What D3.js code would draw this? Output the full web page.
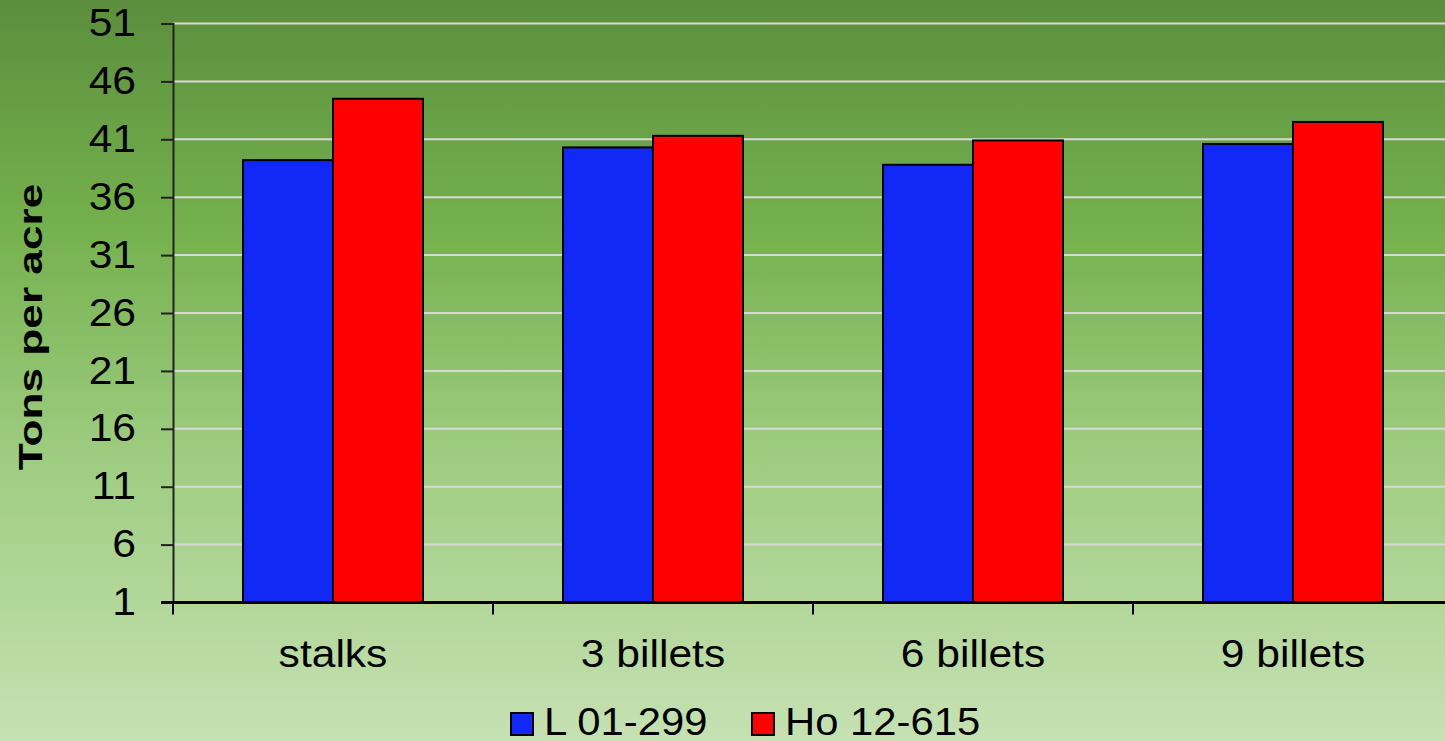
<!DOCTYPE html>
<html>
<head>
<meta charset="utf-8">
<script src="https://cdn.jsdelivr.net/npm/d3@7"></script>
<style>
  html, body { margin: 0; padding: 0; overflow: hidden; }
  svg { display: block; font-family: "Liberation Sans", Arial, sans-serif; }
</style>
</head>
<body>
<svg id="chart" width="1445" height="741"></svg>
<script>
var categories = ["stalks", "3 billets", "6 billets", "9 billets"];
var seriesNames = ["L 01-299", "Ho 12-615"];
var l01299 = [39.2, 40.3, 38.8, 40.6];
var ho12615 = [44.5, 41.3, 40.9, 42.5];
var yTicks = [1, 6, 11, 16, 21, 26, 31, 36, 41, 46, 51];
var colors = ["#1228f5", "#ff0000"];

var width = 1445, height = 741;
var margin = {top: 23.5, right: -8, bottom: 138.5, left: 173};
var w = width - margin.left - margin.right,
    h = height - margin.top - margin.bottom;

var svg = d3.select("#chart");

// the original text is a bit wider than Liberation Sans, stretch it
function stretch(sel, k){
  sel.each(function(){
    var l = this.getComputedTextLength();
    d3.select(this).attr("textLength", l * k).attr("lengthAdjust", "spacingAndGlyphs");
  });
}

// background gradient
var defs = svg.append("defs");
var grad = defs.append("linearGradient")
  .attr("id", "bg").attr("x1", 0).attr("y1", 0).attr("x2", 0).attr("y2", 1);
grad.append("stop").attr("offset", "0%").attr("stop-color", "#5b8e3d");
grad.append("stop").attr("offset", "30%").attr("stop-color", "#74b04d");
grad.append("stop").attr("offset", "60%").attr("stop-color", "#9ccb7e");
grad.append("stop").attr("offset", "100%").attr("stop-color", "#c6e1b3");
svg.append("rect").attr("width", width).attr("height", height).attr("fill", "url(#bg)");

var x = d3.scaleBand().domain(categories).range([0, w]).paddingInner(0).paddingOuter(0);
var xs = d3.scaleBand().domain(seriesNames).range([70, x.bandwidth() - 70]);
var y = d3.scaleLinear().domain([1, 51]).range([h, 0]);

var g = svg.append("g").attr("transform", "translate(" + margin.left + "," + margin.top + ")");

// gridlines
g.append("g")
  .selectAll("line")
  .data(yTicks.slice(1))
  .enter().append("line")
  .attr("x1", 0).attr("x2", w)
  .attr("y1", function(d){ return y(d); })
  .attr("y2", function(d){ return y(d); })
  .attr("stroke", "#d9d9d9")
  .attr("stroke-width", 2);

// bars
var data = [];
categories.forEach(function(c, i){
  data.push({cat: c, s: seriesNames[0], v: l01299[i], col: colors[0]});
  data.push({cat: c, s: seriesNames[1], v: ho12615[i], col: colors[1]});
});

g.selectAll(".bar")
  .data(data)
  .enter().append("rect")
  .attr("class", "bar")
  .attr("x", function(d){ return x(d.cat) + xs(d.s); })
  .attr("y", function(d){ return y(d.v); })
  .attr("width", xs.bandwidth())
  .attr("height", function(d){ return h - y(d.v); })
  .attr("fill", function(d){ return d.col; })
  .attr("stroke", "#000")
  .attr("stroke-width", 2);

// y axis
var yAxis = g.append("g")
  .call(d3.axisLeft(y).tickValues(yTicks).tickSize(12).tickPadding(25));
yAxis.select(".domain").attr("stroke", "#222").attr("stroke-width", 2);
yAxis.selectAll(".tick line").attr("stroke", "#222").attr("stroke-width", 2);
yAxis.selectAll(".tick text")
  .attr("font-size", 38).attr("fill", "#000")
  .attr("font-family", "Liberation Sans, Arial, sans-serif")
  .call(stretch, 1.12);

// x axis
var xAxis = g.append("g")
  .attr("transform", "translate(0," + h + ")")
  .call(d3.axisBottom(x).tickSize(0).tickPadding(38));
xAxis.select(".domain").attr("stroke", "#000").attr("stroke-width", 3).attr("d", "M-12,0H" + w);
xAxis.selectAll(".tick text")
  .attr("font-size", 38).attr("fill", "#000")
  .attr("font-family", "Liberation Sans, Arial, sans-serif")
  .call(stretch, 1.12);

// category separator ticks
g.append("g")
  .selectAll("line")
  .data(categories)
  .enter().append("line")
  .attr("x1", function(d){ return x(d); })
  .attr("x2", function(d){ return x(d); })
  .attr("y1", h).attr("y2", h + 12)
  .attr("stroke", "#000").attr("stroke-width", 2);

// y title
svg.append("text")
  .attr("transform", "translate(42,327) rotate(-90)")
  .attr("text-anchor", "middle")
  .attr("font-size", 34)
  .attr("font-weight", "bold")
  .attr("fill", "#000")
  .text("Tons per acre")
  .call(stretch, 1.3);

// legend
var legendX = [511, 752];
var legend = svg.append("g");
seriesNames.forEach(function(s, i){
  legend.append("rect")
    .attr("x", legendX[i]).attr("y", 713)
    .attr("width", 22).attr("height", 22)
    .attr("fill", colors[i]).attr("stroke", "#000").attr("stroke-width", 2);
  legend.append("text")
    .attr("x", legendX[i] + 33).attr("y", 735)
    .attr("font-size", 38).attr("fill", "#000")
    .text(s)
    .call(stretch, 1.1);
});
</script>
</body>
</html>
